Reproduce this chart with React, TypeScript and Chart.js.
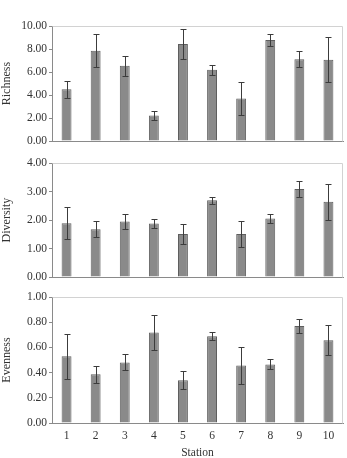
import React, { useEffect, useRef } from "react";
import { Chart, registerables } from "chart.js";

Chart.register(...registerables);

const stations = ["1", "2", "3", "4", "5", "6", "7", "8", "9", "10"];

const richness = [4.5, 7.86, 6.55, 2.22, 8.44, 6.19, 3.7, 8.79, 7.12, 7.07];
const richnessErr = [0.76, 1.42, 0.88, 0.42, 1.3, 0.41, 1.46, 0.55, 0.72, 1.95];

const diversity = [1.89, 1.68, 1.95, 1.88, 1.51, 2.69, 1.51, 2.05, 3.09, 2.64];
const diversityErr = [0.55, 0.28, 0.26, 0.15, 0.35, 0.12, 0.45, 0.16, 0.28, 0.63];

const evenness = [0.53, 0.386, 0.481, 0.718, 0.34, 0.689, 0.457, 0.465, 0.769, 0.657];
const evennessErr = [0.18, 0.065, 0.064, 0.14, 0.07, 0.03, 0.15, 0.04, 0.055, 0.12];

const FONT = "'Liberation Serif', 'Times New Roman', serif";
const AXIS = "#8a8a8a";
const FRAME = "#d2d2d2";
const TEXT = "#333333";

type PanelProps = {
  top: number;
  height: number;
  padTop: number;
  title: string;
  values: number[];
  errors: number[];
  max: number;
  step: number;
  showX: boolean;
};

function Panel(props: PanelProps) {
  const ref = useRef<HTMLCanvasElement>(null);

  useEffect(() => {
    const canvas = ref.current;
    if (!canvas) return;

    const errorBars = {
      id: "errorBars",
      afterDatasetsDraw(chart: any) {
        const meta = chart.getDatasetMeta(0);
        const y = chart.scales.y;
        const ctx = chart.ctx;
        ctx.save();
        ctx.strokeStyle = "#3c3c3c";
        ctx.lineWidth = 1;
        meta.data.forEach((bar: any, i: number) => {
          const v = props.values[i];
          const e = props.errors[i];
          const x = Math.round(bar.x) + 0.5;
          const yHi = Math.round(y.getPixelForValue(v + e)) + 0.5;
          const yLo = Math.round(y.getPixelForValue(v - e)) + 0.5;
          ctx.beginPath();
          ctx.moveTo(x, yHi);
          ctx.lineTo(x, yLo);
          ctx.moveTo(x - 3, yHi);
          ctx.lineTo(x + 3, yHi);
          ctx.moveTo(x - 3, yLo);
          ctx.lineTo(x + 3, yLo);
          ctx.stroke();
        });
        ctx.restore();
      },
    };

    const frame = {
      id: "frame",
      beforeDatasetsDraw(chart: any) {
        const { left, right, top, bottom } = chart.chartArea;
        const ctx = chart.ctx;
        ctx.save();
        ctx.strokeStyle = FRAME;
        ctx.lineWidth = 1;
        ctx.beginPath();
        ctx.moveTo(Math.round(left) + 0.5, Math.round(top) + 0.5);
        ctx.lineTo(Math.round(right) - 0.5, Math.round(top) + 0.5);
        ctx.lineTo(Math.round(right) - 0.5, Math.round(bottom) + 0.5);
        ctx.stroke();
        ctx.restore();
      },
    };

    const chart = new Chart(canvas, {
      type: "bar",
      data: {
        labels: stations,
        datasets: [
          {
            data: props.values,
            backgroundColor: "#8a8a8a",
            borderColor: "#5e5e5e",
            borderWidth: 1,
            barPercentage: 0.34,
            categoryPercentage: 1,
          },
        ],
      },
      options: {
        responsive: false,
        animation: false,
        layout: { padding: { top: props.padTop, right: 4, left: 0, bottom: 0 } },
        plugins: { legend: { display: false }, tooltip: { enabled: false } },
        scales: {
          x: {
            grid: { display: false, drawTicks: false },
            border: { display: true, color: AXIS },
            ticks: {
              display: props.showX,
              color: TEXT,
              padding: 6,
              font: { family: FONT, size: 11.5 },
            },
            title: {
              display: props.showX,
              text: "Station",
              color: TEXT,
              padding: 0,
              font: { family: FONT, size: 11.5, lineHeight: 0.8 },
            },
            afterFit(scale: any) {
              scale.height = props.showX ? 35 : 2;
            },
          },
          y: {
            min: 0,
            max: props.max,
            grid: { drawOnChartArea: false, drawTicks: true, tickLength: 3, color: AXIS },
            border: { display: true, color: AXIS },
            ticks: {
              stepSize: props.step,
              color: TEXT,
              padding: 2,
              font: { family: FONT, size: 11.5 },
              callback: (v: any) => Number(v).toFixed(2),
            },
            title: {
              display: true,
              text: props.title,
              color: TEXT,
              padding: 0,
              font: { family: FONT, size: 12 },
            },
            afterFit(scale: any) {
              scale.width = 52;
            },
          },
        },
      },
      plugins: [frame, errorBars],
    });

    return () => chart.destroy();
  }, []);

  return (
    <canvas
      ref={ref}
      width={347}
      height={props.height}
      style={{ position: "absolute", left: 0, top: props.top, width: 347, height: props.height }}
    />
  );
}

export default function App() {
  return (
    <div style={{ position: "fixed", left: 0, top: 0, width: 347, height: 458, background: "#ffffff" }}>
      <Panel top={0} height={150} padTop={26} title="Richness" values={richness} errors={richnessErr} max={10} step={2} showX={false} />
      <Panel top={150} height={136} padTop={13} title="Diversity" values={diversity} errors={diversityErr} max={4} step={1} showX={false} />
      <Panel top={286} height={172} padTop={11} title="Evenness" values={evenness} errors={evennessErr} max={1} step={0.2} showX={true} />
    </div>
  );
}
